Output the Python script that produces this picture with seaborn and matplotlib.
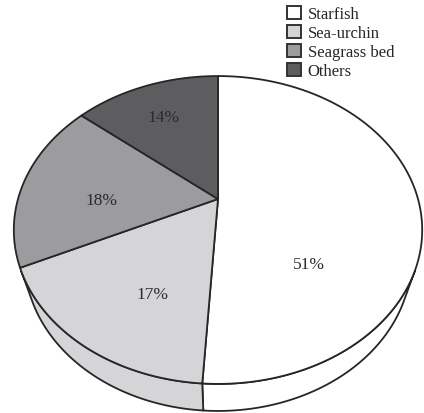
import numpy as np
import matplotlib
matplotlib.use("Agg")
import matplotlib.pyplot as plt
import seaborn as sns
from matplotlib.patches import Patch, Polygon

# Data
categories = ["Starfish", "Sea-urchin", "Seagrass bed", "Others"]
shares = [51, 17, 18, 14]
pct_labels = ["51%", "17%", "18%", "14%"]

sns.set_theme(style="white")
plt.rcParams["font.family"] = ["Liberation Serif", "DejaVu Serif"]

face_colors = ["#ffffff", "#d5d5d7", "#9c9c9e", "#5d5d5f"]
edge = "#262626"

# Perspective camera for the tilted disc
ELEV = np.deg2rad(47.6)
DIST = 3.35
SCALE = 200.0
CX, CY = 218.0, 200.0
THICK = 0.245

# Where each percentage sits on the disc: (angle clockwise from top, radius)
label_polar = [(134, 0.58), (207, 0.64), (269, 0.58), (334, 0.70)]


def project(r, phi, z=0.0):
    u = r * np.sin(phi)
    v = r * np.cos(phi)
    depth = DIST + v * np.cos(ELEV) - z * np.sin(ELEV)
    up = v * np.sin(ELEV) + z * np.cos(ELEV)
    x = CX + SCALE * DIST * u / depth
    y = CY - SCALE * DIST * up / depth
    return x, y


fig = plt.figure(figsize=(4.24, 4.14), dpi=100)
ax = fig.add_axes([0, 0, 1, 1])
ax.set_xlim(0, 424)
ax.set_ylim(414, 0)
ax.axis("off")

bounds = 2 * np.pi * np.concatenate([[0], np.cumsum(shares)]) / np.sum(shares)

# Visible part of the cylinder wall
vis_lo = np.arccos(-1.0 / (DIST * np.cos(ELEV)))
vis_hi = 2 * np.pi - vis_lo

for i, col in enumerate(face_colors):
    a, b = max(bounds[i], vis_lo), min(bounds[i + 1], vis_hi)
    if a >= b:
        continue
    phi = np.linspace(a, b, 200)
    tx, ty = project(1.0, phi, 0.0)
    bx, by = project(1.0, phi, -THICK)
    pts = np.column_stack([np.concatenate([tx, bx[::-1]]),
                           np.concatenate([ty, by[::-1]])])
    ax.add_patch(Polygon(pts, closed=True, facecolor=col, edgecolor=edge,
                         lw=1.3, joinstyle="round", zorder=2))

# Top faces
for i, col in enumerate(face_colors):
    phi = np.linspace(bounds[i], bounds[i + 1], 300)
    tx, ty = project(1.0, phi, 0.0)
    pts = np.column_stack([np.concatenate([[CX], tx]),
                           np.concatenate([[CY], ty])])
    ax.add_patch(Polygon(pts, closed=True, facecolor=col, edgecolor=edge,
                         lw=1.3, joinstyle="round", zorder=3))

# Percentage labels
for lab, (ang, rad) in zip(pct_labels, label_polar):
    lx, ly = project(rad, np.deg2rad(ang), 0.0)
    ax.text(lx, ly, lab, ha="center", va="center", fontsize=12.5,
            color="#2b2b2b", zorder=5)

handles = [Patch(facecolor=c, edgecolor="#333333", lw=1.4) for c in face_colors]
ax.legend(handles, categories, loc="upper left",
          bbox_to_anchor=(287 / 424, 1 - 7 / 414), frameon=False,
          fontsize=12, handlelength=0.85, handleheight=0.85,
          handletextpad=0.4, labelspacing=0.15, borderpad=0,
          borderaxespad=0)

fig.savefig("out.png", dpi=100, facecolor="white")
